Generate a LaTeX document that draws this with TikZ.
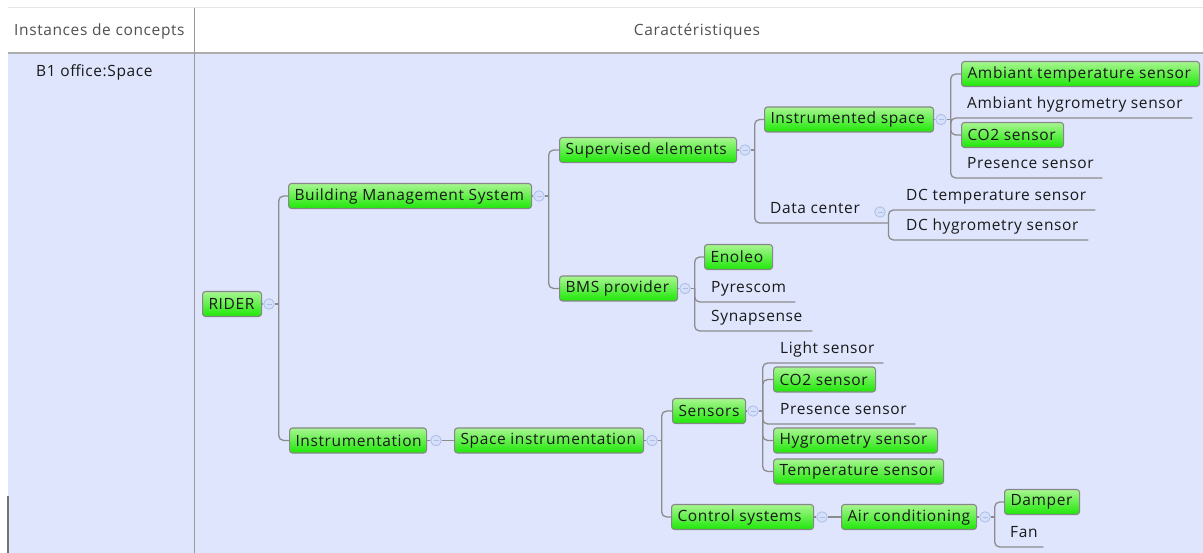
\documentclass[tikz,border=0pt]{standalone}
\usepackage{fontspec}
\setmainfont[LetterSpace=4]{Open Sans}
\definecolor{bodyblue}{RGB}{222,229,253}
\definecolor{gtop}{RGB}{168,246,145}
\definecolor{gbot}{RGB}{30,232,8}
\definecolor{boxgray}{RGB}{135,135,135}
\definecolor{cgray}{RGB}{140,140,140}
\definecolor{icd}{RGB}{170,190,232}
\definecolor{icf}{RGB}{214,224,250}
\definecolor{txt}{RGB}{25,25,25}
\definecolor{hdtxt}{RGB}{80,80,80}
\newcommand\mmfs{\fontsize{15.5pt}{17pt}\selectfont}
\tikzset{
  gbox/.style={draw=boxgray, line width=1.1pt, rounded corners=3pt, top color=gtop, bottom color=gbot,
    minimum height=25pt, inner xsep=6pt, inner ysep=0pt, font=\mmfs, text=txt, anchor=west},
  ptext/.style={inner xsep=0pt, inner ysep=6pt, text height=11pt, text depth=3.5pt, font=\mmfs, text=txt, anchor=south west},
  mmicon/.style={circle, draw=icd, fill=icf, line width=0.8pt, minimum size=10.5pt, inner sep=0pt,
    path picture={\draw[icd, line width=0.8pt] ([xshift=-2.5pt]path picture bounding box.center) -- ([xshift=2.5pt]path picture bounding box.center);}},
  conn/.style={draw=cgray, line width=1.3pt, rounded corners=5pt},
  hdr/.style={font=\mmfs, text=hdtxt, inner sep=0pt},
}
\newcommand\mmgnode[5]{\node[gbox] (#1) at (#2,#4) {\makebox[\dimexpr #3pt-#2pt-12pt\relax][l]{#5}};}
\newcommand\mmpnode[5]{\node[ptext] (#1) at (#2,#4) {\makebox[\dimexpr #3pt-#2pt\relax][l]{#5}};}
\begin{document}
\begin{tikzpicture}[x=1pt,y=-1pt]
\useasboundingbox (0,0) rectangle (1203,553);
\fill[white] (0,0) rectangle (1203,553);
\fill[bodyblue] (8,54) rectangle (1203,553);
\draw[black!10, line width=1pt] (8,7.5) -- (1203,7.5);
\draw[black!32, line width=2pt] (8,53) -- (1203,53);
\draw[black!40, line width=1.5pt] (194.5,8) -- (194.5,553);
\draw[black!55, line width=1.5pt] (8,496) -- (8,553);

\node[hdr, anchor=west] (hinst) at (14,31) {Instances de concepts};
\node[hdr] (hcar) at (697,31) {Caractéristiques};
\node[hdr, anchor=west, text=txt] (b1) at (36,72) {B1 office:Space};

% green nodes
\mmgnode{rider}{202}{261}{304}{RIDER}
\mmgnode{bms}{288}{531}{196}{Building Management System}
\mmgnode{sup}{559}{736}{150}{Supervised elements}
\mmgnode{ins}{764}{933}{119.5}{Instrumented space}
\mmgnode{ats}{961}{1199}{74}{Ambiant temperature sensor}
\mmgnode{co2a}{961}{1063}{135}{CO2 sensor}
\mmgnode{bmsp}{559}{677}{288.5}{BMS provider}
\mmgnode{eno}{704}{772}{257}{Enoleo}
\mmgnode{instr}{289}{426}{440.5}{Instrumentation}
\mmgnode{spi}{454}{643}{440.5}{Space instrumentation}
\mmgnode{sens}{672}{745}{411}{Sensors}
\mmgnode{co2b}{773}{875}{379.5}{CO2 sensor}
\mmgnode{hyg}{773}{937}{440.5}{Hygrometry sensor}
\mmgnode{tmp}{773}{943}{471.5}{Temperature sensor}
\mmgnode{ctl}{671}{813}{517}{Control systems}
\mmgnode{air}{841}{976}{517}{Air conditioning}
\mmgnode{damp}{1004}{1079}{502}{Damper}

% plain nodes
\mmpnode{ahum}{967}{1192}{118}{Ambiant hygrometry sensor}
\mmpnode{pres1}{967}{1102}{178}{Presence sensor}
\mmpnode{dc}{770}{888}{223}{Data center}
\mmpnode{dct}{906}{1095}{210}{DC temperature sensor}
\mmpnode{dch}{906}{1088}{240}{DC hygrometry sensor}
\mmpnode{pyr}{711}{795}{302}{Pyrescom}
\mmpnode{syn}{711}{812}{331}{Synapsense}
\mmpnode{light}{780}{883}{363}{Light sensor}
\mmpnode{pres2}{780}{915}{424}{Presence sensor}
\mmpnode{fan}{1010}{1043}{547}{Fan}

% icons
\node[mmicon] (ricon) at (269,304) {};
\node[mmicon] (bmsicon) at (539,196) {};
\node[mmicon] (supicon) at (745,150) {};
\node[mmicon] (insicon) at (941,119.5) {};
\node[mmicon] (dcicon) at (880,212) {};
\node[mmicon] (bmspicon) at (685,288.5) {};
\node[mmicon] (instricon) at (436,440.5) {};
\node[mmicon] (spiicon) at (652,440.5) {};
\node[mmicon] (sensicon) at (753,411) {};
\node[mmicon] (ctlicon) at (822,517) {};
\node[mmicon] (airicon) at (985,517) {};

% box to icon
\foreach \a/\b in {rider/ricon, bms/bmsicon, sup/supicon, ins/insicon, bmsp/bmspicon, instr/instricon, spi/spiicon, sens/sensicon, ctl/ctlicon, air/airicon}
  \draw[conn] (\a.east) -- (\b.west);

% single-child links
\draw[conn] (instricon.east) -- (spi.west);
\draw[conn] (ctlicon.east) -- (air.west);

% stubs
\foreach \b in {ricon, bmsicon, supicon, insicon, bmspicon, spiicon, sensicon, airicon}
  \draw[conn] (\b.east) -- ++(4,0);

% branches
\draw[conn] ([xshift=4pt]ricon.east) |- (bms.west);
\draw[conn] ([xshift=4pt]ricon.east) |- (instr.west);
\draw[conn] ([xshift=4pt]bmsicon.east) |- (sup.west);
\draw[conn] ([xshift=4pt]bmsicon.east) |- (bmsp.west);
\draw[conn] ([xshift=4pt]supicon.east) |- (ins.west);
\draw[conn] ([xshift=4pt]supicon.east) |- (dc.south east);
\draw[conn] ([xshift=4pt]insicon.east) |- (ats.west);
\draw[conn] ([xshift=4pt]insicon.east) |- (ahum.south east);
\draw[conn] ([xshift=4pt]insicon.east) |- (co2a.west);
\draw[conn] ([xshift=4pt]insicon.east) |- (pres1.south east);
\draw[conn] (dc.south east) |- (dct.south east);
\draw[conn] (dc.south east) |- (dch.south east);
\draw[conn] ([xshift=4pt]bmspicon.east) |- (eno.west);
\draw[conn] ([xshift=4pt]bmspicon.east) |- (pyr.south east);
\draw[conn] ([xshift=4pt]bmspicon.east) |- (syn.south east);
\draw[conn] ([xshift=4pt]spiicon.east) |- (sens.west);
\draw[conn] ([xshift=4pt]spiicon.east) |- (ctl.west);
\draw[conn] ([xshift=4pt]sensicon.east) |- (light.south east);
\draw[conn] ([xshift=4pt]sensicon.east) |- (co2b.west);
\draw[conn] ([xshift=4pt]sensicon.east) |- (pres2.south east);
\draw[conn] ([xshift=4pt]sensicon.east) |- (hyg.west);
\draw[conn] ([xshift=4pt]sensicon.east) |- (tmp.west);
\draw[conn] ([xshift=4pt]airicon.east) |- (damp.west);
\draw[conn] ([xshift=4pt]airicon.east) |- (fan.south east);
\end{tikzpicture}
\end{document}
